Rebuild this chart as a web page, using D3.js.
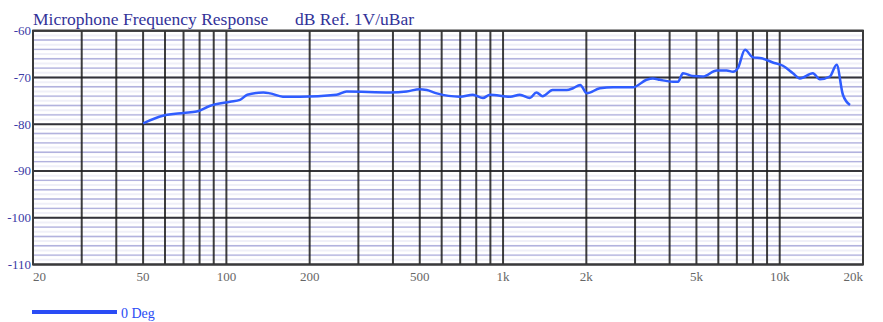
<!DOCTYPE html>
<html>
<head>
<meta charset="utf-8">
<script src="https://cdn.jsdelivr.net/npm/d3@7"></script>
<style>
  body { margin: 0; background: #fff; }
  svg, svg text { font-family: "Liberation Serif", "DejaVu Serif", serif; }
</style>
</head>
<body>
<div id="container"></div>
<script>

// response curve
var freqs = [50, 59, 70, 78, 87, 103, 112, 119, 136, 144, 160, 184, 250, 272, 390, 448, 500, 530, 576,
    698, 778, 846, 897, 1060, 1150, 1250, 1320, 1390, 1510, 1700, 1790, 1900, 2010, 2240, 2500, 2950,
    3300, 3480, 3690, 4110, 4290, 4470, 4850, 5280, 5920, 6430, 6780, 7060, 7490, 8000, 8600, 9440,
    10270, 11160, 11830, 13180, 13970, 15180, 16060, 16920, 17950]
var levels = [-79.8, -78.2, -77.6, -77.3, -76.1, -75.2, -74.8, -73.7, -73.2, -73.4, -74.1, -74.1, -73.7, -73.0,
    -73.2, -73.0, -72.5, -72.7, -73.4, -74.1, -73.7, -74.4, -73.7, -74.1, -73.7, -74.4, -73.2, -74.0,
    -72.7, -72.7, -72.3, -71.6, -73.4, -72.3, -72.1, -72.1, -70.5, -70.2, -70.5, -70.9, -70.9, -69.1,
    -69.7, -69.8, -68.5, -68.5, -68.8, -68.0, -64.1, -65.7, -65.9, -66.8, -67.5, -69.1, -70.2, -69.1,
    -70.4, -69.8, -67.3, -73.7, -75.9]

var xTickVals = [20, 50, 100, 200, 500, 1000, 2000, 5000, 10000, 20000]
var xTickNames = ["20", "50", "100", "200", "500", "1k", "2k", "5k", "10k", "20k"]
var seriesName = "0 Deg"

var width = 883,
    height = 322,
    serif = "'Liberation Serif', 'DejaVu Serif', serif"

var x = d3.scaleLog().domain([20, 20000]).range([33, 863])
var y = d3.scaleLinear().domain([-110, -60]).range([264.5, 30.7])

var svg = d3.select("div#container").append("svg")
    .attr("width", width)
    .attr("height", height)

// very faint 1 dB bands
svg.selectAll(".fine")
    .data(y.ticks(50))
    .enter().append("line")
    .attr("x1", x.range()[0]).attr("x2", x.range()[1])
    .attr("y1", function (d) { return y(d); })
    .attr("y2", function (d) { return y(d); })
    .style("stroke", "#efeff8")
    .style("stroke-width", 2)

// 2 dB minor lines
svg.selectAll(".minor")
    .data(y.ticks(25))
    .enter().append("line")
    .attr("x1", x.range()[0]).attr("x2", x.range()[1])
    .attr("y1", function (d) { return y(d); })
    .attr("y2", function (d) { return y(d); })
    .style("stroke", "#b2b2de")
    .style("stroke-width", 1.4)

// vertical log grid
svg.selectAll(".vgrid")
    .data(x.ticks())
    .enter().append("line")
    .attr("x1", function (d) { return x(d); })
    .attr("x2", function (d) { return x(d); })
    .attr("y1", y.range()[0]).attr("y2", y.range()[1])
    .style("stroke", "#1c1c1c")
    .style("stroke-opacity", 0.85)
    .style("stroke-width", 2)

// 10 dB major lines
svg.selectAll(".major")
    .data(y.ticks(5))
    .enter().append("line")
    .attr("x1", x.range()[0]).attr("x2", x.range()[1])
    .attr("y1", function (d) { return y(d); })
    .attr("y2", function (d) { return y(d); })
    .style("stroke", "#1c1c1c")
    .style("stroke-opacity", 0.85)
    .style("stroke-width", 2)

// frame
svg.append("rect")
    .attr("x", x.range()[0]).attr("y", y.range()[1])
    .attr("width", x.range()[1] - x.range()[0])
    .attr("height", y.range()[0] - y.range()[1])
    .style("fill", "none")
    .style("stroke", "#3a3a3a")
    .style("stroke-width", 2)

// y labels
svg.selectAll(".ylab")
    .data(y.ticks(5))
    .enter().append("text")
    .attr("x", 31)
    .attr("y", function (d) { return y(d) + 4.5; })
    .attr("text-anchor", "end")
    .style("font-family", serif)
    .style("font-size", "13px")
    .style("fill", "#3b3ba6")
    .text(function (d) { return d; })

// x labels
svg.selectAll(".xlab")
    .data(xTickVals)
    .enter().append("text")
    .attr("x", function (d) { return x(d); })
    .attr("y", 281)
    .attr("text-anchor", function (d, i) {
        return i == 0 ? "start" : (i == xTickVals.length - 1 ? "end" : "middle");
    })
    .style("font-family", serif)
    .style("font-size", "13px")
    .style("fill", "#666")
    .text(function (d, i) { return xTickNames[i]; })

// titles
svg.append("text")
    .attr("x", 33).attr("y", 25)
    .style("font-family", serif)
    .style("font-size", "17.5px")
    .style("fill", "#333399")
    .text("Microphone Frequency Response")

svg.append("text")
    .attr("x", 295).attr("y", 25)
    .style("font-family", serif)
    .style("font-size", "17.5px")
    .style("fill", "#333399")
    .text("dB Ref. 1V/uBar")

// curve
var line = d3.line()
    .x(function (d, i) { return x(freqs[i]); })
    .y(function (d) { return y(d); })
    .curve(d3.curveMonotoneX)

svg.append("path")
    .datum(levels)
    .attr("d", line)
    .style("fill", "none")
    .style("stroke", "#2f5cff")
    .style("stroke-width", 2.5)
    .style("stroke-linejoin", "round")

// legend
svg.append("line")
    .attr("x1", 32).attr("x2", 117)
    .attr("y1", 312).attr("y2", 312)
    .style("stroke", "#2a4cf5")
    .style("stroke-width", 4)

svg.append("text")
    .attr("x", 121).attr("y", 318)
    .style("font-family", serif)
    .style("font-size", "14px")
    .style("fill", "#2a4cf5")
    .text(seriesName)

</script>
</body>
</html>
